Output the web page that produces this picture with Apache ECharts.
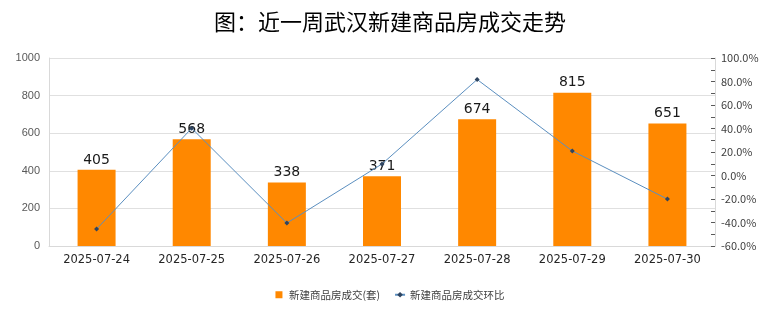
<!DOCTYPE html>
<html>
<head>
<meta charset="utf-8">
<script src="https://cdn.jsdelivr.net/npm/echarts@6/dist/echarts.min.js"></script>
<style>
  html, body { margin: 0; padding: 0; background: #fff; }
  #chart { width: 780px; height: 328px; }
</style>
</head>
<body>
<div id="chart"></div>
<script>
// Wuhan new commercial housing transactions over the last week
const categories = ['2025-07-24', '2025-07-25', '2025-07-26', '2025-07-27', '2025-07-28', '2025-07-29', '2025-07-30'];
const dealUnits = [405, 568, 338, 371, 674, 815, 651];
const dealChangePct = [-45.6, 40.2, -40.5, 9.8, 81.7, 20.9, -20.1];
const leftTicks = { min: 0, max: 1000, interval: 200 };
const rightTicks = { min: -60, max: 100, interval: 20 };

const chart = echarts.init(document.getElementById('chart'));
chart.setOption({
  animation: false,
  backgroundColor: '#ffffff',
  title: {
    text: '图：近一周武汉新建商品房成交走势',
    left: 'center',
    top: 6,
    textStyle: { fontFamily: 'Noto Sans CJK SC', fontSize: 22, fontWeight: 'normal', color: '#000000' }
  },
  legend: {
    bottom: 23,
    left: 'center',
    itemGap: 14,
    itemWidth: 10,
    itemHeight: 7,
    textStyle: { fontFamily: 'Noto Sans CJK SC', fontSize: 10.5, color: '#404040' },
    data: [
      { name: '新建商品房成交(套)', icon: 'path://M0,0H10V10H0Z', itemStyle: { color: '#ff8800' } },
      { name: '新建商品房成交环比' }
    ]
  },
  grid: { left: 49, right: 65, top: 58, bottom: 82 },
  xAxis: {
    type: 'category',
    data: categories,
    axisLine: { lineStyle: { color: '#d9d9d9' } },
    axisTick: { show: false },
    axisLabel: { fontFamily: 'DejaVu Sans', fontSize: 11.5, color: '#262626', margin: 8 }
  },
  yAxis: [
    {
      type: 'value',
      min: leftTicks.min, max: leftTicks.max, interval: leftTicks.interval,
      axisLine: { show: true, lineStyle: { color: '#d9d9d9' } },
      axisTick: { show: false },
      splitLine: { lineStyle: { color: '#e0e0e0' } },
      axisLabel: {
        fontFamily: 'Liberation Sans', fontSize: 11, color: '#595959', margin: 9,
        formatter: v => String(v)
      }
    },
    {
      type: 'value',
      position: 'right',
      min: rightTicks.min, max: rightTicks.max, interval: rightTicks.interval,
      axisLine: { show: true, lineStyle: { color: '#d9d9d9' } },
      axisTick: { show: true, inside: true, length: 4, lineStyle: { color: '#595959' } },
      minorTick: { show: true, splitNumber: 2, length: 4, lineStyle: { color: '#595959' } },
      splitLine: { show: false },
      axisLabel: {
        fontFamily: 'Noto Sans CJK JP', fontSize: 11, color: '#404040', margin: 6,
        formatter: v => v.toFixed(1) + '%'
      }
    }
  ],
  series: [
    {
      name: '新建商品房成交(套)',
      type: 'bar',
      data: dealUnits,
      barWidth: 38,
      itemStyle: { color: '#ff8800' },
      label: {
        show: true, position: 'top', distance: 3,
        fontFamily: 'DejaVu Sans', fontSize: 14, color: '#1a1a1a'
      }
    },
    {
      name: '新建商品房成交环比',
      type: 'line',
      yAxisIndex: 1,
      data: dealChangePct,
      symbol: 'diamond',
      symbolSize: 5,
      lineStyle: { color: '#5b8fc0', width: 1 },
      itemStyle: { color: '#2f4560' }
    }
  ]
});
</script>
</body>
</html>
